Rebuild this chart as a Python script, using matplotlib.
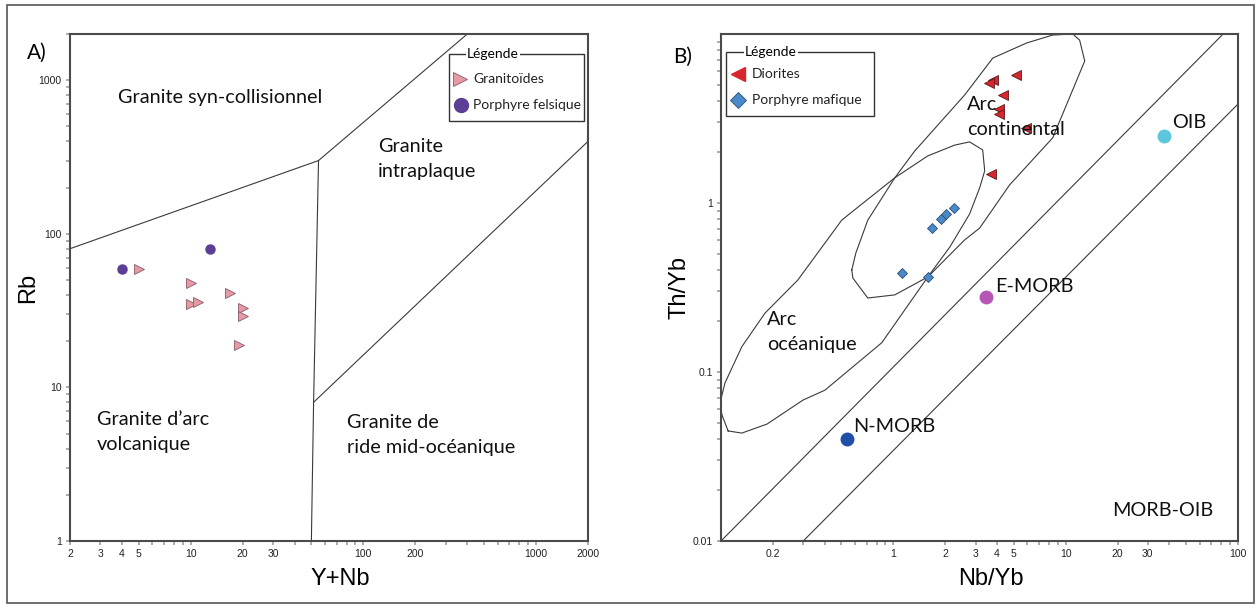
import numpy as np
import matplotlib
matplotlib.use('Agg')
import matplotlib.pyplot as plt
from matplotlib.patches import Rectangle
from matplotlib.ticker import FixedLocator, LogLocator, NullFormatter

# ---- Panel A data (Pearce 1984, Y+Nb vs Rb) ----
gran_x = [5, 10, 10, 11, 17, 20, 20, 19]
gran_y = [59, 48, 35, 36, 41, 33, 29, 19]
felsic_x = [4, 13]
felsic_y = [59, 80]

syncol_x = [2, 55]
syncol_y = [80, 300]
wpg_x = [55, 400]
wpg_y = [300, 2000]
vag_org_x = [55, 51.5, 50]
vag_org_y = [300, 8, 1]
org_wpg_x = [51.5, 2000]
org_wpg_y = [8, 400]

xticksA = [2, 3, 4, 5, 10, 20, 30, 100, 200, 1000, 2000]
yticksA = [1, 10, 100, 1000]

# ---- Panel B data (Pearce 2008, Nb/Yb vs Th/Yb) ----
dior_x = [5.13, 3.79, 3.60, 4.34, 4.11, 4.11, 5.9, 3.67]
dior_y = [5.7, 5.32, 5.13, 4.37, 3.6, 3.36, 2.78, 1.49]
maf_x = [1.68, 1.88, 2.01, 2.24, 1.12, 1.59]
maf_y = [0.714, 0.80, 0.86, 0.94, 0.387, 0.367]

ref_names = ['N-MORB', 'E-MORB', 'OIB']
ref_x = [0.535, 3.47, 37.4]
ref_y = [0.040, 0.279, 2.5]
ref_colors = ['#1f4fa8', '#b657b5', '#5cc6dc']

array1_x = [0.1, 82]
array1_y = [0.01, 10]
array2_x = [0.3, 100]
array2_y = [0.01, 3.85]

ocean_x = [0.110, 0.132, 0.185, 0.299, 0.401, 0.857, 1.585, 2.13, 2.77, 3.17, 3.39,
           3.30, 2.77, 2.27, 1.585, 1.02, 0.701, 0.502, 0.279, 0.180, 0.132, 0.1054,
           0.0987, 0.1013, 0.110]
ocean_y = [0.0448, 0.0435, 0.0492, 0.0682, 0.0781, 0.149, 0.365, 0.550, 0.861, 1.23, 1.55,
           2.06, 2.30, 2.20, 1.90, 1.41, 1.04, 0.792, 0.350, 0.223, 0.141, 0.086,
           0.0656, 0.0557, 0.0448]
cont_x = [0.574, 0.606, 0.711, 1.02, 1.33, 2.59, 3.78, 5.94, 8.41, 11.0, 12.05, 12.9,
          10.5, 8.41, 4.73, 3.17, 2.59, 1.585, 1.02, 0.711, 0.582, 0.574]
cont_y = [0.402, 0.506, 0.792, 1.41, 2.03, 4.35, 7.21, 8.85, 9.86, 10.0, 9.2, 6.92,
          4.18, 2.43, 1.28, 0.711, 0.604, 0.365, 0.286, 0.274, 0.360, 0.402]

xticksB = [0.2, 1, 2, 3, 4, 5, 10, 20, 30, 100]
yticksB = [0.01, 0.1, 1]

W, H = 1259, 607
fig = plt.figure(figsize=(W / 100, H / 100), dpi=100)
fig.patch.set_facecolor('white')
fig.add_artist(Rectangle((7 / W, 4 / H), 1247 / W, 598 / H, transform=fig.transFigure,
                         fill=False, edgecolor='#555555', lw=1.2))

axA = fig.add_axes([70 / W, 66 / H, 518 / W, 507 / H])
axB = fig.add_axes([721 / W, 66 / H, 517 / W, 507 / H])

line_kw = dict(color='#3a3a3a', lw=0.8)
reg_font = 'Lato'
tick_font = 'Liberation Sans'


def fx(px):
    return px / W


def fy(py):
    return 1 - py / H


def style_axis(ax, xt, yt, xlab, ylab):
    ax.set_xscale('log')
    ax.set_yscale('log')
    ax.xaxis.set_major_locator(FixedLocator(xt))
    ax.yaxis.set_major_locator(FixedLocator(yt))
    ax.xaxis.set_minor_locator(LogLocator(base=10, subs=np.arange(2, 10)))
    ax.yaxis.set_minor_locator(LogLocator(base=10, subs=np.arange(2, 10)))
    ax.xaxis.set_minor_formatter(NullFormatter())
    ax.yaxis.set_minor_formatter(NullFormatter())
    ax.set_xticklabels([('%g' % v) for v in xt], fontsize=7.5, family=tick_font, color='#222222')
    ax.set_yticklabels([('%g' % v) for v in yt], fontsize=7.5, family=tick_font, color='#222222')
    ax.tick_params(which='both', direction='out', length=3, width=1.2, color='#a0a0a0', pad=3)
    for s in ax.spines.values():
        s.set_color('#4a4a4a')
        s.set_linewidth(1.5)
    ax.set_xlabel(xlab, fontsize=17, family=tick_font)
    ax.set_ylabel(ylab, fontsize=17, family=tick_font)
    ax.xaxis.set_label_coords(0.522, -0.053)
    ax.yaxis.set_label_coords(-0.059, 0.5)


def draw_legend(box, title_x, rows):
    # box in figure pixels: (left, top, right, bottom)
    l, t, r, b = box
    fig.add_artist(Rectangle((fx(l), fy(b)), (r - l) / W, (b - t) / H,
                             transform=fig.transFigure, fill=True, facecolor='white',
                             edgecolor='#333333', lw=1.0, zorder=8))
    fig.text(fx(title_x), fy(t), 'Légende', fontsize=10, family=reg_font, va='center',
             ha='left', zorder=10, bbox=dict(facecolor='white', edgecolor='none', pad=0.6))
    for (mx, my, tx, label, mkw) in rows:
        fig.add_artist(plt.Line2D([fx(mx)], [fy(my)], transform=fig.transFigure,
                                  ls='none', zorder=9, **mkw))
        fig.text(fx(tx), fy(my), label, fontsize=10, family=reg_font, va='center',
                 ha='left', zorder=9, color='#222222')


# ---------------- Panel A ----------------
axA.plot(syncol_x, syncol_y, **line_kw)
axA.plot(wpg_x, wpg_y, **line_kw)
axA.plot(vag_org_x, vag_org_y, **line_kw)
axA.plot(org_wpg_x, org_wpg_y, **line_kw)
gran_style = dict(marker='>', mfc='#e59aa6', mec='#8a5a66', mew=0.6)
felsic_style = dict(marker='o', mfc='#5b3e96', mec='#5b3e96')
axA.plot(gran_x, gran_y, ls='none', ms=7, **gran_style)
axA.plot(felsic_x, felsic_y, ls='none', ms=6.5, **felsic_style)
axA.set_xlim(2, 2000)
axA.set_ylim(1, 2000)
style_axis(axA, xticksA, yticksA, 'Y+Nb', 'Rb')

tA = dict(fontsize=14.3, family=reg_font, color='#111111', linespacing=1.6,
          transform=axA.transAxes, ha='left', va='center')
axA.text((118 - 70) / 518, (541 - 98) / 507, 'Granite syn-collisionnel', **tA)
axA.text((378 - 70) / 518, (541 - 159) / 507, 'Granite\nintraplaque', **tA)
axA.text((97 - 70) / 518, (541 - 432) / 507, 'Granite d\u2019arc\nvolcanique', **tA)
axA.text((347 - 70) / 518, (541 - 435) / 507, 'Granite de\nride mid-océanique', **tA)

# ---------------- Panel B ----------------
axB.plot(array1_x, array1_y, **line_kw)
axB.plot(array2_x, array2_y, **line_kw)
axB.plot(ocean_x, ocean_y, **line_kw)
axB.plot(cont_x, cont_y, **line_kw)
for name, x, y, c in zip(ref_names, ref_x, ref_y, ref_colors):
    axB.plot([x], [y], ls='none', marker='o', ms=9, mfc=c, mec=c)
dior_style = dict(marker='<', mfc='#d8262e', mec='#5a1a1a', mew=0.6)
maf_style = dict(marker='D', mfc='#4a8ac8', mec='#2a4f75', mew=0.6)
axB.plot(dior_x, dior_y, ls='none', ms=7, **dior_style)
axB.plot(maf_x, maf_y, ls='none', ms=4.8, **maf_style)
axB.set_xlim(0.1, 100)
axB.set_ylim(0.01, 10)
style_axis(axB, xticksB, yticksB, 'Nb/Yb', 'Th/Yb')

tB = dict(fontsize=14.3, family=reg_font, color='#111111', linespacing=1.6,
          transform=axB.transAxes, ha='left', va='center', zorder=5)


def bx(px):
    return (px - 721) / 517


def by(py):
    return (541 - py) / 507


axB.text(bx(967), by(117), 'Arc\ncontinental', **tB)
axB.text(bx(767), by(332), 'Arc\nocéanique', **tB)
axB.text(bx(853), by(426), 'N-MORB', **tB)
axB.text(bx(995), by(286), 'E-MORB', **tB)
axB.text(bx(1172), by(123), 'OIB', **tB)
axB.text(bx(1112), by(511), 'MORB-OIB', **tB)

# panel letters
fig.text(fx(27), fy(53), 'A)', fontsize=15, family=reg_font, va='center')
fig.text(fx(673), fy(57), 'B)', fontsize=15, family=reg_font, va='center')

# ---------------- Legends ----------------
draw_legend((448.5, 53.5, 584, 121), 467,
            [(460, 79, 473, 'Granitoïdes', dict(ms=10, **gran_style)),
             (460.5, 105, 473, 'Porphyre felsique', dict(ms=10, **felsic_style))])
draw_legend((725.5, 52, 874, 116), 745,
            [(737.5, 73.7, 752, 'Diorites', dict(ms=10, marker='<', mfc='#d8262e', mec='#d8262e')),
             (737.5, 100.3, 752, 'Porphyre mafique', dict(ms=8, **maf_style))])

fig.savefig('out.png', dpi=100)
